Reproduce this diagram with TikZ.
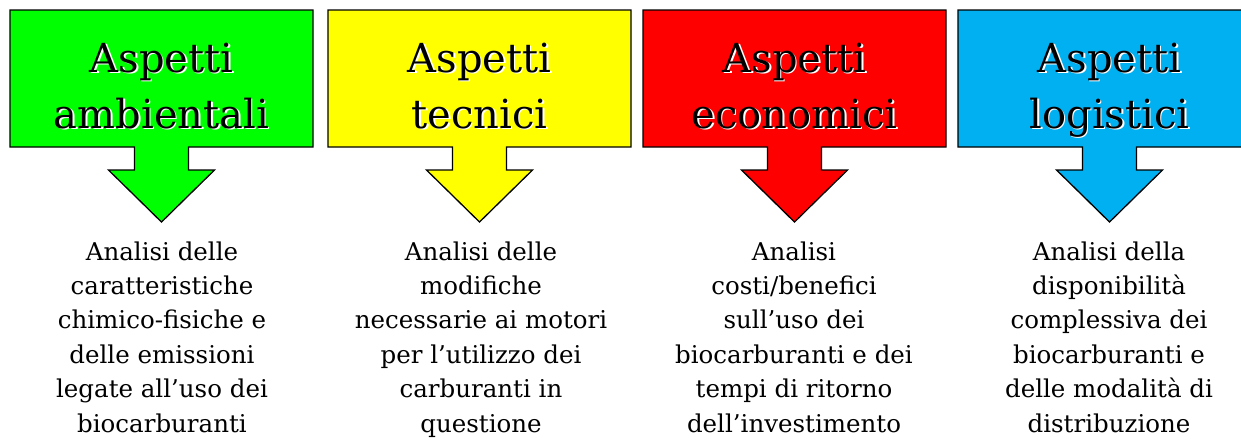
\documentclass[tikz,border=0pt]{standalone}
\usepackage{fontspec}
\setmainfont{DejaVu Serif}
\definecolor{cgreen}{HTML}{00FF00}
\definecolor{cyellow}{HTML}{FFFF00}
\definecolor{cred}{HTML}{FF0000}
\definecolor{cblue}{HTML}{00B0F0}
\tikzset{
  callout/.style={draw=black, line width=1.3pt, line join=miter},
  titletext/.style={align=center, inner sep=0pt, anchor=base, font=\fontsize{40}{56}\selectfont},
  bodytext/.style={align=center, inner sep=0pt, anchor=base, font=\fontsize{24.5}{34.4}\selectfont},
}
\newcommand{\callshape}[2]{%
  \filldraw[callout, fill=#2] (#1-151.5,10) -- (#1+151.5,10) -- (#1+151.5,147) -- (#1+27,147) -- (#1+27,170) -- (#1+53,170) -- (#1,222) -- (#1-53,170) -- (#1-27,170) -- (#1-27,147) -- (#1-151.5,147) -- cycle;}
\begin{document}
\begin{tikzpicture}[x=1pt,y=-1pt]
\useasboundingbox (0,0) rectangle (1241,439);
\fill[white] (0,0) rectangle (1241,439);
\clip (0,0) rectangle (1241,439);
\callshape{161.5}{cgreen}
\callshape{479.5}{cyellow}
\callshape{794.5}{cred}
\callshape{1109.5}{cblue}
% titles (white shadow + black text); base anchor = last line baseline
\node[titletext, white] (t1s) at (163,129.5) {Aspetti\\ambientali};
\node[titletext] (t1) at (161.5,128) {Aspetti\\ambientali};
\node[titletext, white] (t2s) at (481,129.5) {Aspetti\\tecnici};
\node[titletext] (t2) at (479.5,128) {Aspetti\\tecnici};
\node[titletext, white] (t3s) at (796,129.5) {Aspetti\\economici};
\node[titletext] (t3) at (794.5,128) {Aspetti\\economici};
\node[titletext, white] (t4s) at (1111,129.5) {Aspetti\\logistici};
\node[titletext] (t4) at (1109.5,128) {Aspetti\\logistici};
% body texts
\node[bodytext] (b1) at (162,432) {Analisi delle\\caratteristiche\\chimico-fisiche e\\delle emissioni\\legate all’uso dei\\biocarburanti};
\node[bodytext] (b2) at (481,432) {Analisi delle\\modifiche\\necessarie ai motori\\per l’utilizzo dei\\carburanti in\\questione};
\node[bodytext] (b3) at (794,432) {Analisi\\costi/benefici\\sull’uso dei\\biocarburanti e dei\\tempi di ritorno\\dell’investimento};
\node[bodytext] (b4) at (1109,432) {Analisi della\\disponibilità\\complessiva dei\\biocarburanti e\\delle modalità di\\distribuzione};
\end{tikzpicture}
\end{document}
